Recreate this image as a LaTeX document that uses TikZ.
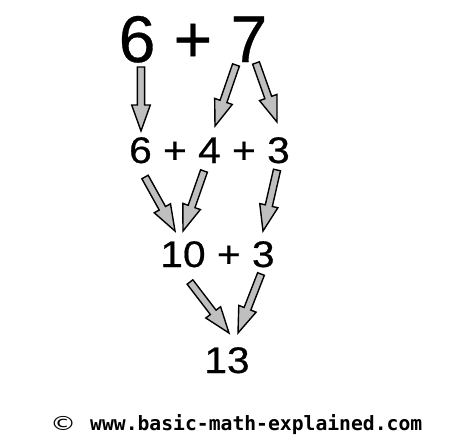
\documentclass[tikz,border=0pt]{standalone}
\usepackage{fontspec}
\usepackage{graphicx}
\setmainfont{Liberation Sans}
\newfontfamily\heavyfont[FakeBold=0.5]{Liberation Sans}
\newfontfamily\footfont{DejaVu Sans Mono}
\newfontfamily\copyfont{DejaVu Sans}
\usetikzlibrary{calc}
\tikzset{
  bigtxt/.style={font=\heavyfont\fontsize{66}{70}\selectfont, inner sep=0pt, anchor=base},
  midtxt/.style={font=\heavyfont\fontsize{37}{40}\selectfont, inner sep=0pt, anchor=base, xscale=1.1, transform shape},
  blockarr/.style={draw=black, fill=gray!50, line width=1.4pt, line join=miter},
  foottxt/.style={font=\footfont\bfseries\fontsize{19.7}{22}\selectfont, inner sep=0pt, anchor=base west}
}
\newcommand\blockarrowdraw[2]{%
  \path ($(#2)!26pt!(#1)$) coordinate (#2base);
  \filldraw[blockarr]
    ($(#1)!3.6pt!90:(#2)$) --
    ($(#2base)!3.6pt!-90:(#1)$) --
    ($(#2base)!9.3pt!-90:(#1)$) --
    (#2) --
    ($(#2base)!9.3pt!90:(#1)$) --
    ($(#2base)!3.6pt!90:(#1)$) --
    ($(#1)!3.6pt!-90:(#2)$) -- cycle;
}
\begin{document}
\begin{tikzpicture}[x=1pt,y=-1pt]
\useasboundingbox[fill=white] (0,0) rectangle (474,440);
% texts
\node[bigtxt] (top) at (193,62) {6 + 7};
\node[midtxt] (mid) at (209.5,163) {6 + 4 + 3};
\node[midtxt] (row3) at (217.5,267) {10 + 3};
\node[midtxt] (res) at (227,373) {13};
\node[foottxt] (footer) at (50,430) {\makebox[40pt][l]{\copyfont\mdseries\fontsize{18}{20}\selectfont\scalebox{1.45}[1.08]{©}}www.basic-math-explained.com};
% arrow ends
\coordinate (t1) at (141,67);  \coordinate (h1) at (141,131);
\coordinate (t2) at (236,65);  \coordinate (h2) at (215,126);
\coordinate (t3) at (256,63);  \coordinate (h3) at (277,122);
\coordinate (t4) at (145,177); \coordinate (h4) at (175,231);
\coordinate (t5) at (204,171); \coordinate (h5) at (183,231);
\coordinate (t6) at (277,170); \coordinate (h6) at (263,231);
\coordinate (t7) at (190,282); \coordinate (h7) at (229,333);
\coordinate (t8) at (261,274); \coordinate (h8) at (238,333);
\blockarrowdraw{t1}{h1}
\blockarrowdraw{t2}{h2}
\blockarrowdraw{t3}{h3}
\blockarrowdraw{t4}{h4}
\blockarrowdraw{t5}{h5}
\blockarrowdraw{t6}{h6}
\blockarrowdraw{t7}{h7}
\blockarrowdraw{t8}{h8}
\end{tikzpicture}
\end{document}
